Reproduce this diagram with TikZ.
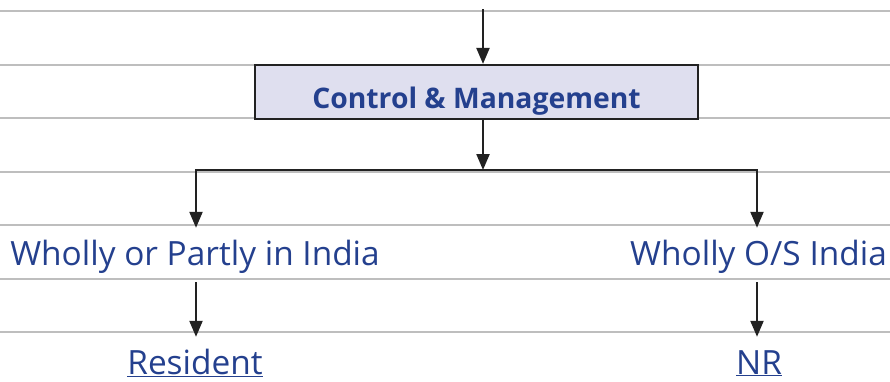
\documentclass[tikz,border=0pt]{standalone}
\usepackage{fontspec}
\setmainfont{Open Sans}
\usetikzlibrary{arrows.meta}
\definecolor{ink}{RGB}{36,64,142}
\definecolor{rule}{RGB}{190,190,190}
\definecolor{boxfill}{RGB}{223,223,239}
\definecolor{wire}{RGB}{34,34,34}
\tikzset{
  ruleline/.style={draw=rule, line width=1.3pt},
  flow/.style={draw=wire, line width=2.2pt, -{Triangle[length=16pt,width=13pt]}},
  wire/.style={draw=wire, line width=2.2pt},
  headbox/.style={draw=wire, line width=2.2pt, fill=boxfill, minimum width=443pt,
    minimum height=54pt, inner sep=0pt, text=ink, text height=32pt, text depth=0pt,
    font=\fontsize{28.3}{34}\selectfont\bfseries},
  label/.style={text=ink, font=\fontsize{33.4}{38}\selectfont, text height=25pt,
    text depth=5pt, inner ysep=12pt, inner xsep=0pt, anchor=base},
  result/.style={label, text height=37pt, text depth=0pt, inner ysep=0pt},
}
\begin{document}
\begin{tikzpicture}[x=1pt, y=-1pt]
  \useasboundingbox (0,0) rectangle (890,381);
  % ruled background
  \foreach \yy in {11,65,118,172,225,279,332}
    \draw[ruleline] (0,\yy) -- (890,\yy);
  % nodes
  \coordinate (top) at (483,9);
  \node[headbox] (cm) at (476.5,92) {Control \& Management};
  \coordinate (jn) at (483,170);
  \coordinate (jl) at (196,170);
  \coordinate (jr) at (757,170);
  \node[label] (wl) at (195,265) {Wholly or Partly in India};
  \node[label] (wr) at (758.5,265) {Wholly O/S India};
  \node[result] (res) at (195,374) {\underline{Resident}};
  \node[result] (nr) at (759,374) {\underline{NR}};
  % connectors
  \draw[flow] (top) -- (cm.north -| top);
  \draw[flow] (cm.south -| top) -- (jn);
  \draw[wire] ([xshift=-1.1pt]jl) -- ([xshift=1.1pt]jr);
  \draw[flow] (jl) -- (wl.north -| jl);
  \draw[flow] (jr) -- (wr.north -| jr);
  \draw[flow] (wl.south -| jl) -- (res.north -| jl);
  \draw[flow] (wr.south -| jr) -- (nr.north -| jr);
\end{tikzpicture}
\end{document}
